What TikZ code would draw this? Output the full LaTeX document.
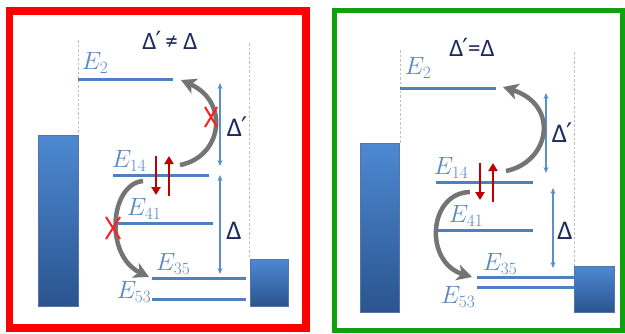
\documentclass[tikz,border=0pt]{standalone}
\usepackage{fontspec}
\newfontfamily\cf{Carlito}
\newfontfamily\dv{DejaVu Sans}
\usetikzlibrary{arrows.meta,calc}
\definecolor{lvl}{HTML}{4F80BE}
\definecolor{lbl}{HTML}{5A87C2}
\definecolor{navy}{HTML}{1C2A5E}
\definecolor{gapc}{HTML}{5B8FCC}
\definecolor{spinc}{HTML}{C00000}
\definecolor{xc}{HTML}{FF1F1F}
\definecolor{hopc}{HTML}{747474}
\definecolor{bartop}{HTML}{4D89D2}
\definecolor{barbot}{HTML}{2A548F}
\definecolor{frr}{HTML}{FF0000}
\definecolor{frg}{HTML}{10A010}
\newcommand{\pr}{{\dv\kern-0.04em′}}
\tikzset{
  level/.style={draw=lvl, line width=3pt},
  elabel/.style={text=lbl, inner sep=0pt, font=\fontsize{23}{26}\selectfont},
  dlabel/.style={text=navy, inner sep=0pt, font=\cf\fontsize{27}{30}\selectfont},
  ttl/.style={text=navy, inner sep=0pt, font=\cf\fontsize{25}{28}\selectfont},
  gap/.style={draw=gapc, line width=1.1pt, {Stealth[length=6pt,width=5pt]}-{Stealth[length=6pt,width=5pt]}},
  hop/.style={draw=hopc, line width=4.5pt, -{Stealth[length=15pt,width=16pt,inset=4pt]}},
  spin/.style={draw=spinc, line width=2.8pt, -{Triangle[length=8pt,width=9pt]}},
  cross/.style={draw=xc, line width=2pt},
  guide/.style={draw=gray!50, line width=0.8pt, dash pattern=on 2.5pt off 2pt},
  bar/.style={top color=bartop, bottom color=barbot, draw=barbot!80, line width=0.4pt},
}
\begin{document}
\begin{tikzpicture}[x=1pt,y=-1pt]
\useasboundingbox (0,0) rectangle (625,333);
\fill[white] (0,0) rectangle (625,333);
% frames
\draw[draw=frr, line width=7.5pt] (9.5,11) rectangle (306,328);
\draw[draw=frg, line width=5pt] (334.5,10.5) rectangle (622,330.5);

% ===== left panel =====
\node[ttl] (t1) at (170,40) {Δ\pr\,≠\ Δ};
\draw[guide] (78,40) -- (78,135);
\draw[guide] (249,43) -- (249,259);
\fill[bar] (38,135) rectangle (78,306);
\fill[bar] (250,259) rectangle (288,306);
\draw[level] (78,79) -- (173,79);
\draw[level] (113,175) -- (209,175);
\draw[level] (118,223) -- (213,223);
\draw[level] (152,278) -- (246,278);
\draw[level] (152,299) -- (246,299);
\node[elabel] (a2) at (95,63) {$E_{2}$};
\node[elabel] (a14) at (129,161) {$E_{14}$};
\node[elabel] (a41) at (144,209) {$E_{41}$};
\node[elabel] (a35) at (173,264) {$E_{35}$};
\node[elabel] (a53) at (134,292) {$E_{53}$};
\coordinate (ga1) at (220,83);
\coordinate (ga2) at (220,166);
\coordinate (ga3) at (220,175);
\coordinate (ga4) at (220,274);
\draw[gap] (ga1) -- (ga2);
\draw[gap] (ga3) -- (ga4);
\node[dlabel] (ad1) at (237,127) {Δ\pr};
\node[dlabel] (ad2) at (234,231) {Δ};
\coordinate (ha1) at (180,165);
\coordinate (ha2) at (181,80);
\draw[hop] (ha1) .. controls (222,157) and (230,102) .. (ha2);
\coordinate (hb1) at (143,181);
\coordinate (hb2) at (149,277);
\draw[hop] (hb1) .. controls (110,184) and (104,255) .. (hb2);
\coordinate (sa1) at (156,156);
\coordinate (sa2) at (156,195);
\coordinate (sb1) at (169,196);
\coordinate (sb2) at (169,156);
\draw[spin] (sa1) -- (sa2);
\draw[spin] (sb1) -- (sb2);
\coordinate (xa) at (211,117);
\draw[cross] ($(xa)+(-6,-10)$) -- ($(xa)+(6,10)$) ($(xa)+(6,-10)$) -- ($(xa)+(-6,10)$);
\coordinate (xb) at (113,228);
\draw[cross] ($(xb)+(-7,-11)$) -- ($(xb)+(7,11)$) ($(xb)+(7,-11)$) -- ($(xb)+(-7,11)$);

% ===== right panel =====
\node[ttl] (t2) at (472,47) {Δ\pr=Δ};
\draw[guide] (400,50) -- (400,143);
\draw[guide] (574,52) -- (574,266);
\fill[bar] (360,143) rectangle (399,312);
\fill[bar] (574,266) rectangle (614,312);
\draw[level] (400,88) -- (496,88);
\draw[level] (436,182) -- (533,182);
\draw[level] (436,230) -- (533,230);
\draw[level] (477,277) -- (574,277);
\draw[level] (477,287) -- (574,287);
\node[elabel] (b2) at (418,68) {$E_{2}$};
\node[elabel] (b14) at (451,168) {$E_{14}$};
\node[elabel] (b41) at (466,216) {$E_{41}$};
\node[elabel] (b35) at (500,264) {$E_{35}$};
\node[elabel] (b53) at (458,297) {$E_{53}$};
\coordinate (gb1) at (546,93);
\coordinate (gb2) at (546,173);
\coordinate (gb3) at (553,188);
\coordinate (gb4) at (553,268);
\draw[gap] (gb1) -- (gb2);
\draw[gap] (gb3) -- (gb4);
\node[dlabel] (bd1) at (562,133) {Δ\pr};
\node[dlabel] (bd2) at (565,231) {Δ};
\coordinate (hc1) at (506,171);
\coordinate (hc2) at (503,87);
\draw[hop] (hc1) .. controls (550,162) and (560,105) .. (hc2);
\coordinate (hd1) at (470,192);
\coordinate (hd2) at (472,277);
\draw[hop] (hd1) .. controls (428,193) and (424,262) .. (hd2);
\coordinate (sc1) at (480,163);
\coordinate (sc2) at (480,200);
\coordinate (sd1) at (493,202);
\coordinate (sd2) at (493,163);
\draw[spin] (sc1) -- (sc2);
\draw[spin] (sd1) -- (sd2);
\end{tikzpicture}
\end{document}
